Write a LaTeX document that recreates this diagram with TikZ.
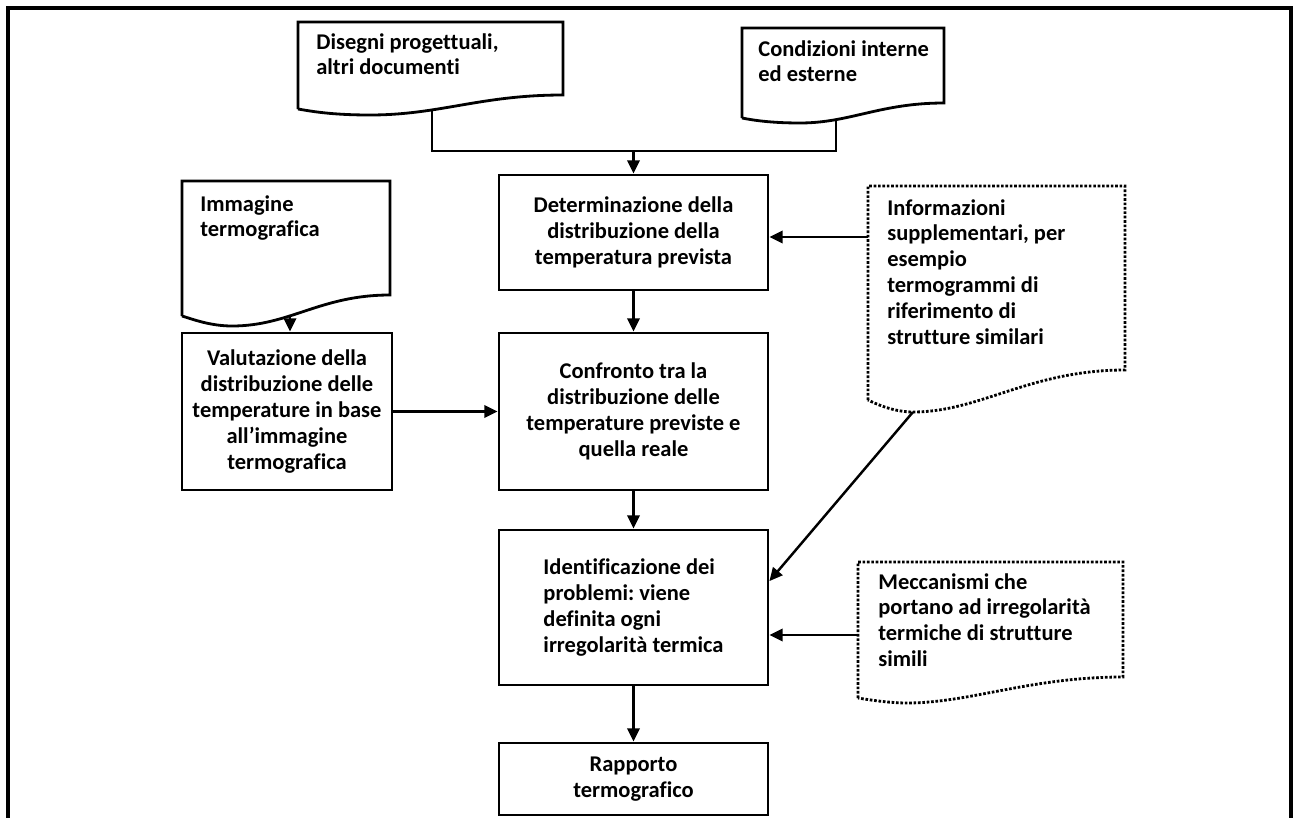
\documentclass[tikz,border=0pt]{standalone}
\usepackage{fontspec}
\setmainfont{Carlito}[Ligatures=NoCommon]
\usetikzlibrary{arrows.meta}
\newcommand{\testo}{\bfseries\fontsize{12.8}{14.7}\selectfont\frenchspacing}

\begin{document}
\begin{tikzpicture}[x=0.02cm,y=-0.02cm]
            \tikzset{
                riquadro/.style={draw, line width=1.6pt, align=center, font=\testo, inner sep=0pt},
                testo/.style={anchor=north west, align=left, font=\testo, inner sep=0pt},
                bordo/.style={line width=1.6pt},
                puntini/.style={line width=1.6pt, dash pattern=on 1.5pt off 1pt},
                linea/.style={line width=1.4pt},
                freccia/.style={linea, -{Triangle[length=7.5pt,width=7pt]}},}
            \useasboundingbox (0,0) rectangle (1295,818);
            \draw [line width=2pt](8,830) -- (8,8) -- (1291,8) -- (1291,830);
            % documenti
            \draw [bordo](298,109) -- (298,22) -- (563,22) -- (563,95) .. controls (480,95) and (440,115) .. (370,115) .. controls (330,115) and (310,111) .. (298,109);
            \draw [bordo](742,118) -- (742,28) -- (944,28) -- (944,103) .. controls (880,103) and (850,123) .. (800,123) .. controls (770,123) and (752,120) .. (742,118);
            \draw [bordo](182,316) -- (182,181) -- (390,181) -- (390,295) .. controls (320,295) and (290,326) .. (232,326) .. controls (210,326) and (192,319) .. (182,316);
            \draw [puntini](868,400) -- (868,186) -- (1125,186) -- (1125,370) .. controls (1030,370) and (980,412) .. (913,412) .. controls (895,412) and (878,405) .. (868,400);
            \draw [puntini](858,698) -- (858,562) -- (1123,562) -- (1123,677) .. controls (1030,677) and (970,703) .. (907,703) .. controls (890,703) and (870,700) .. (858,698);
            \node [testo] (disegni) at (316,33) {Disegni progettuali,\\altri documenti};
            \node [testo] (condizioni) at (758,40) {Condizioni interne\\ed esterne};
            \node [testo] (immagine) at (200,195) {Immagine\\termografica};
            \node [testo] (informazioni) at (887,199) {Informazioni\\supplementari, per\\esempio\\termogrammi di\\riferimento di\\strutture similari};
            \node [testo] (meccanismi) at (878,573) {Meccanismi che\\portano ad irregolarità\\termiche di strutture\\simili};
            \coordinate (disegni-s) at (432,111);
            \coordinate (condizioni-s) at (836,120);
            \coordinate (immagine-s) at (290,315);
            \coordinate (informazioni-s) at (913,412);
            \coordinate (informazioni-w) at (868,237);
            \coordinate (meccanismi-w) at (858,635);
            % riquadri
            \node [riquadro, minimum width=5.38cm, minimum height=2.3cm] (determinazione) at (633.5,232.5) {Determinazione della\\distribuzione della\\temperatura prevista};
            \node [riquadro, minimum width=4.2cm, minimum height=3.14cm] (valutazione) at (287,411.5) {Valutazione della\\distribuzione delle\\temperature in base\\all’immagine\\termografica};
            \node [riquadro, minimum width=5.38cm, minimum height=3.14cm] (confronto) at (633.5,411.5) {Confronto tra la\\distribuzione delle\\temperature previste e\\quella reale};
            \node [riquadro, align=left, minimum width=5.38cm, minimum height=3.1cm] (identificazione) at (633.5,607.5) {Identificazione dei\\problemi: viene\\definita ogni\\irregolarità termica};
            \node [riquadro, minimum width=5.38cm, minimum height=1.44cm] (rapporto) at (633.5,779) {Rapporto\\termografico};
            \coordinate (giunzione) at (633.5,151);
            % frecce
            \draw [linea](disegni-s) |- (giunzione) -| (condizioni-s);
            \draw [freccia](giunzione) -- (determinazione.north);
            \draw [freccia](informazioni-w) -- (informazioni-w -| determinazione.east);
            \draw [freccia](immagine-s) -- (immagine-s |- valutazione.north);
            \draw [freccia](determinazione) -- (confronto);
            \draw [freccia](valutazione) -- (confronto);
            \draw [freccia](confronto) -- (identificazione);
            \draw [freccia](informazioni-s) -- (identificazione.11);
            \draw [freccia](meccanismi-w) -- (meccanismi-w -| identificazione.east);
            \draw [freccia](identificazione) -- (rapporto);
        \end{tikzpicture}
\end{document}
